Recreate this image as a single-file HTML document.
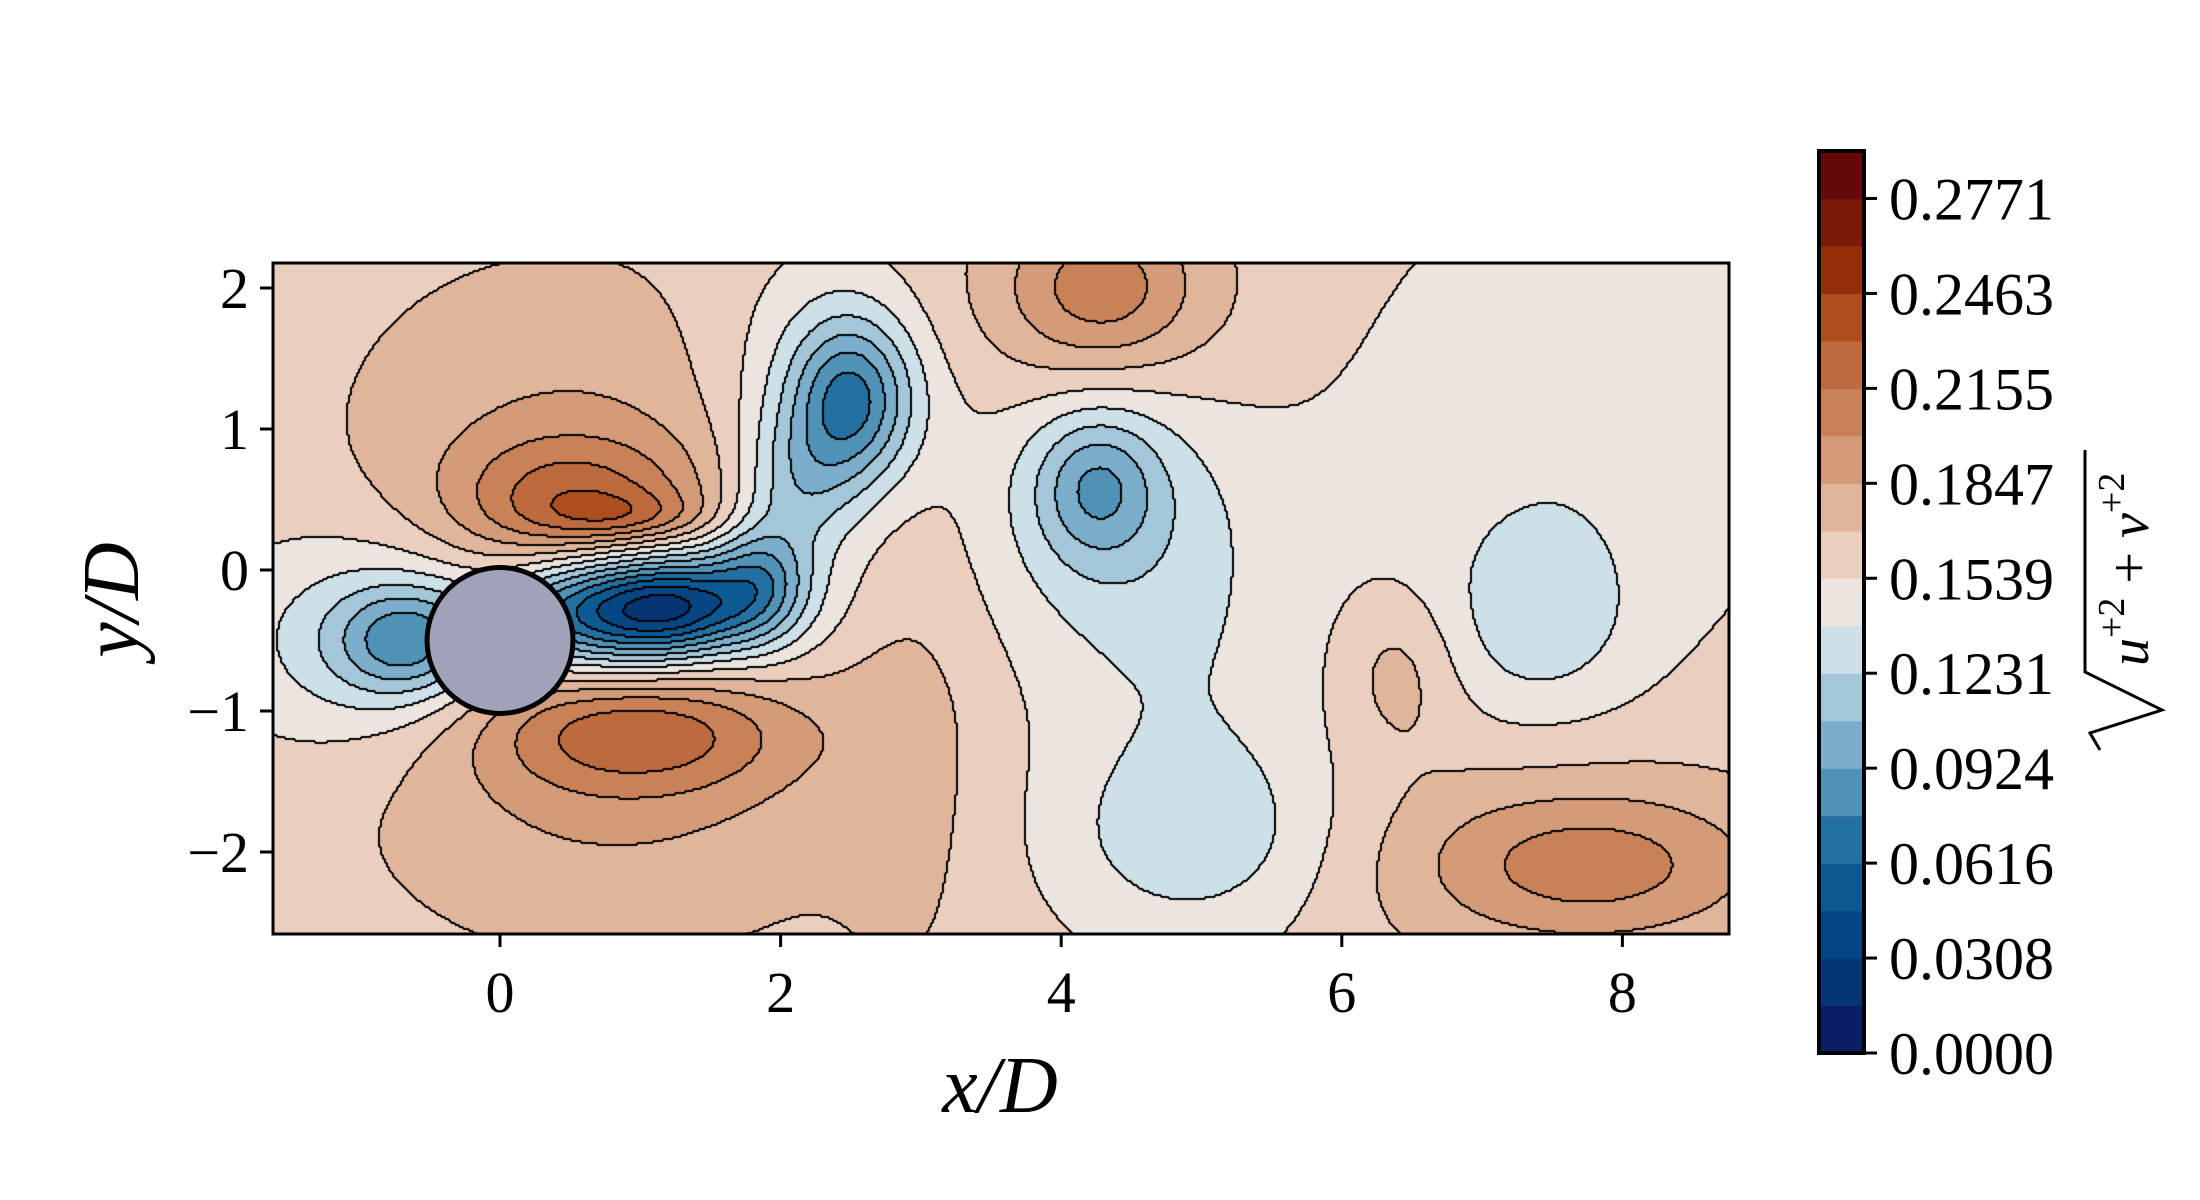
<!DOCTYPE html>
<html><head><meta charset="utf-8"><style>
body{margin:0;background:#fff;width:2200px;height:1200px;overflow:hidden;position:relative;font-family:"Liberation Serif",serif;}
#field{position:absolute;left:273px;top:263px;}
svg{position:absolute;left:0;top:0;}
</style></head><body>
<canvas id="field" width="1456" height="671"></canvas>
<svg id="ov" width="2200" height="1200"></svg>
<script>
// ---- data ----
const levelStep = 0.01539;
const nLevels = 19;
const bandColors = ["#0a1e63","#063573","#064684","#0d5a93","#2470a0","#5193b6","#7aaecb","#a4c6d9","#cddfe7","#ebe4df","#eacebe","#e0b59b","#d49b79","#c98158","#bd6a3e","#ae4e1f","#93300a","#7a1a08","#650808"];
const baseValue = 0.162;
const blobX   = [-0.65,-1.0, 0.5, 0.7, 0.9, 1.0, 0.8, 0.7, 1.3, 1.85, 1.4, 2.5, 2.1, 2.4, 4.3, 4.2, 4.25, 4.3, 4.9, 5.0, 2.9, 7.6, 7.4, 6.4, 7.8, 7.5, 0.4];
const blobY   = [-0.5,-0.5, 0.9, 0.45,0.38,-1.15,-1.5,-0.3,-0.25,-0.1,-0.2, 1.2, 0.6, 1.3, 2.0, 1.8, 0.6, 0.5,-1.0,-1.9,-1.2, 1.0,-0.4,-0.7,-2.1,-2.0, 0.5];
const blobAmp = [-0.06,-0.035,0.022,0.03,0.025,0.045,0.025,-0.10,-0.07,-0.055,-0.03,-0.07,-0.035,-0.03,0.038,0.015,-0.04,-0.03,-0.02,-0.022,0.012,-0.02,-0.025,0.02,0.033,0.016,0.02];
const blobSx  = [0.35,0.7,1.1,0.7,0.4,0.75,1.2,0.5,0.35,0.25,0.8,0.3,0.3,0.6,0.45,1.0,0.3,0.6,0.8,0.7,0.35,1.3,0.5,0.3,0.8,1.3,0.5];
const blobSy  = [0.28,0.55,0.9,0.35,0.12,0.3,0.8,0.28,0.25,0.3,0.4,0.4,0.35,0.7,0.4,0.6,0.35,0.7,1.3,0.45,1.3,1.2,0.5,0.4,0.35,0.6,0.3];
const xTicks = [0,2,4,6,8];
const yTicks = [2,1,0,-1,-2];
const cbTicks = ["0.0000","0.0308","0.0616","0.0924","0.1231","0.1539","0.1847","0.2155","0.2463","0.2771"];
const cylX = 0, cylY = -0.5, cylR = 0.52;

// ---- axes ----
const X0=273,X1=1729,Y0=263,Y1=934;
const sx = v => 500 + v*140.3;
const sy = v => 570 - v*141;
const ix = p => (p-500)/140.3;
const iy = p => (570-p)/141;

function value(x,y){
  let v=baseValue;
  for(let i=0;i<blobX.length;i++){
    const dx=(x-blobX[i])/blobSx[i], dy=(y-blobY[i])/blobSy[i];
    v+=blobAmp[i]*Math.exp(-0.5*(dx*dx+dy*dy));
  }
  return v;
}
function band(v){let b=Math.floor(v/levelStep);return Math.max(0,Math.min(nLevels-1,b));}

const cv=document.getElementById('field'),ctx=cv.getContext('2d');
const C=2,W=Math.ceil(1456/C),H=Math.ceil(671/C);
const B=[];
for(let j=0;j<H;j++){B.push([]);for(let i=0;i<W;i++){
  const px=X0+i*C+C/2,py=Y0+j*C+C/2;
  B[j].push(band(value(ix(px),iy(py))));
}}
for(let j=0;j<H;j++)for(let i=0;i<W;i++){ctx.fillStyle=bandColors[B[j][i]];ctx.fillRect(i*C,j*C,C,C);}
ctx.fillStyle="#000";
for(let j=0;j<H;j++)for(let i=0;i<W;i++){
  if(i+1<W&&B[j][i+1]!==B[j][i])ctx.fillRect(i*C+C-1,j*C,2,C);
  if(j+1<H&&B[j+1][i]!==B[j][i])ctx.fillRect(i*C,j*C+C-1,C,2);
}

const NS="http://www.w3.org/2000/svg",svg=document.getElementById('ov');
function mk(tag,attrs,txt){const e=document.createElementNS(NS,tag);for(const k in attrs)e.setAttribute(k,attrs[k]);if(txt!==undefined)e.textContent=txt;svg.appendChild(e);return e;}

const cyl=mk('circle',{cx:sx(cylX),cy:sy(cylY),r:cylR*140.3,fill:"#9fa2b8",stroke:"#000","stroke-width":5});



const frame=mk('rect',{x:X0,y:Y0,width:X1-X0,height:Y1-Y0,fill:"none",stroke:"#000","stroke-width":3});



xTicks.forEach(t=>{
  const tk=mk('line',{x1:sx(t),x2:sx(t),y1:Y1,y2:Y1+13,stroke:"#000","stroke-width":3});
  
  
  const lb=mk('text',{x:sx(t),y:Y1+78,"font-size":58,"text-anchor":"middle"},String(t));
  
  
});
yTicks.forEach(t=>{
  const tk=mk('line',{x1:X0-13,x2:X0,y1:sy(t),y2:sy(t),stroke:"#000","stroke-width":3});
  
  
  const lb=mk('text',{x:X0-24,y:sy(t)+20,"font-size":58,"text-anchor":"end"},t<0?"\u2212"+Math.abs(t):String(t));
  
  
});
const xl=mk('text',{x:1000,y:1112,"font-size":80,"font-style":"italic","text-anchor":"middle"},"x/D");


const yl=mk('text',{x:0,y:0,"font-size":80,"font-style":"italic","text-anchor":"middle",transform:"translate(138,600) rotate(-90)"},"y/D");



// colorbar
const CB0=1819,CB1=1864,CBT=151,CBB=1053,bh=(CBB-CBT)/nLevels;
bandColors.forEach((c,i)=>{
  const r=mk('rect',{x:CB0,y:CBB-(i+1)*bh,width:CB1-CB0,height:bh+0.6,fill:c});
  
  
});
const cbf=mk('rect',{x:CB0,y:CBT,width:CB1-CB0,height:CBB-CBT,fill:"none",stroke:"#000","stroke-width":4});


cbTicks.forEach((t,i)=>{
  const y=CBB-i*2*bh;
  const tk=mk('line',{x1:CB1,x2:CB1+13,y1:y,y2:y,stroke:"#000","stroke-width":3});
  
  
  const lb=mk('text',{x:CB1+25,y:y+21,"font-size":60},t);
  
  
});
const g=document.createElementNS(NS,'g');
g.setAttribute('transform','translate(2140,600) rotate(-90)');


svg.appendChild(g);
g.innerHTML='<path d="M-150,-40 L-133,-50 L-110,22 L-72,-55 L150,-55" fill="none" stroke="#000" stroke-width="3"/>'+
 '<text x="-66" y="8" font-size="56" font-style="italic">u<tspan dy="-24" font-size="38" font-style="normal">+2</tspan><tspan dy="24" font-style="normal"> + </tspan>v<tspan dy="-24" font-size="38" font-style="normal">+2</tspan></text>';
</script>
</body></html>
